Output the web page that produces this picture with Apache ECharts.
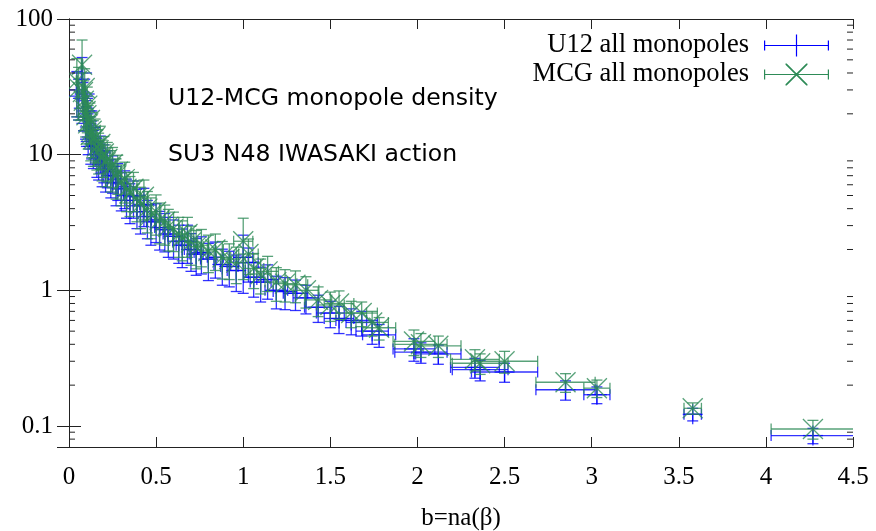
<!DOCTYPE html>
<html>
<head>
<meta charset="utf-8">
<script src="https://cdn.jsdelivr.net/npm/echarts@6/dist/echarts.min.js"></script>
<style>
  html, body { margin: 0; padding: 0; background: #fff; }
  #chart { width: 876px; height: 531px; }
</style>
</head>
<body>
<div id="chart"></div>
<script>
// b = n a(beta) and its error, shared by both series
const bVals = [0.045, 0.055, 0.075, 0.08, 0.085, 0.09, 0.095, 0.10, 0.105, 0.11,
    0.12, 0.125, 0.13, 0.14, 0.15, 0.16, 0.17, 0.18, 0.19, 0.20,
    0.21, 0.22, 0.24, 0.25, 0.27, 0.28, 0.30, 0.32, 0.33, 0.35,
    0.37, 0.39, 0.41, 0.43, 0.45, 0.47, 0.50, 0.52, 0.55, 0.57,
    0.60, 0.63, 0.65, 0.68, 0.70, 0.73, 0.76, 0.80, 0.84, 0.88,
    0.92, 0.96, 1.00, 1.03, 1.06, 1.10, 1.14, 1.19, 1.24, 1.30,
    1.36, 1.43, 1.50, 1.55, 1.62, 1.68, 1.74, 1.78, 1.98, 2.02,
    2.12, 2.33, 2.36, 2.50, 2.85, 3.03, 3.58, 4.27];
const bErr = [0.003, 0.003, 0.004, 0.004, 0.004, 0.005, 0.005, 0.005, 0.006, 0.006,
    0.007, 0.007, 0.007, 0.008, 0.008, 0.009, 0.009, 0.010, 0.010, 0.011,
    0.011, 0.012, 0.013, 0.014, 0.015, 0.015, 0.017, 0.018, 0.018, 0.020,
    0.020, 0.021, 0.022, 0.023, 0.024, 0.025, 0.027, 0.028, 0.030, 0.030,
    0.032, 0.034, 0.035, 0.036, 0.038, 0.040, 0.042, 0.045, 0.046, 0.048,
    0.050, 0.052, 0.055, 0.056, 0.058, 0.060, 0.062, 0.065, 0.068, 0.070,
    0.074, 0.078, 0.080, 0.085, 0.088, 0.090, 0.093, 0.095, 0.12, 0.15,
    0.13, 0.14, 0.16, 0.19, 0.17, 0.075, 0.05, 0.24];

// U12 all monopoles
const u12Vals = [30, 27, 40, 26, 22, 28, 19, 17, 21, 15,
    16, 12.5, 13.5, 11.5, 12, 10, 9.5, 10.5, 8.5, 9,
    7.8, 8.2, 7, 7.5, 6.2, 6.6, 5.6, 5.8, 5.0, 4.6,
    4.9, 4.2, 3.8, 4.3, 3.5, 3.2, 3.3, 2.9, 2.8, 2.6,
    2.5, 2.3, 2.15, 2.3, 2.0, 1.85, 1.9, 1.7, 1.75, 1.55,
    1.5, 1.4, 1.75, 1.6, 1.25, 1.15, 1.2, 1.0, 0.98, 0.95,
    0.88, 0.75, 0.68, 0.62, 0.6, 0.58, 0.5, 0.47, 0.37, 0.35,
    0.34, 0.27, 0.26, 0.25, 0.185, 0.17, 0.122, 0.085];
const u12Err = [11, 9, 12, 8, 7, 8, 6, 5.5, 6, 5,
    5, 4, 4.2, 3.6, 3.8, 3.2, 3, 3.2, 2.7, 2.8,
    2.5, 2.5, 2.2, 2.3, 2, 2, 1.75, 1.8, 1.6, 1.5,
    1.5, 1.35, 1.2, 1.35, 1.1, 1.05, 1.05, 0.92, 0.88, 0.85,
    0.8, 0.72, 0.68, 0.72, 0.62, 0.56, 0.58, 0.52, 0.52, 0.46,
    0.44, 0.42, 0.8, 0.45, 0.36, 0.33, 0.34, 0.27, 0.26, 0.24,
    0.21, 0.17, 0.15, 0.14, 0.13, 0.12, 0.1, 0.09, 0.07, 0.06,
    0.055, 0.045, 0.045, 0.04, 0.03, 0.024, 0.013, 0.011];

// MCG all monopoles
const mcgVals = [35, 31, 46, 29, 25, 31, 21, 19.5, 23, 17,
    18, 14, 15, 13, 13.5, 11.5, 10.8, 12, 9.6, 10.2,
    8.8, 9.3, 8, 8.5, 7, 7.5, 6.3, 6.6, 5.6, 5.2,
    5.6, 4.8, 4.3, 4.9, 4.0, 3.6, 3.8, 3.3, 3.2, 2.95,
    2.85, 2.6, 2.45, 2.6, 2.25, 2.1, 2.15, 1.95, 2.0, 1.75,
    1.7, 1.6, 2.3, 1.85, 1.45, 1.32, 1.38, 1.15, 1.12, 1.1,
    1.0, 0.85, 0.78, 0.8, 0.68, 0.68, 0.58, 0.53, 0.42, 0.40,
    0.39, 0.31, 0.29, 0.30, 0.21, 0.19, 0.135, 0.095];
const mcgErr = [16, 13, 24, 11, 10, 12, 7.5, 7.5, 8.5, 6,
    6, 5, 5.5, 4.8, 4.8, 3.8, 3.6, 4.2, 3.2, 3.4,
    3, 3, 2.7, 2.8, 2.3, 2.4, 2.1, 2.2, 1.8, 1.7,
    1.8, 1.6, 1.45, 1.6, 1.35, 1.2, 1.25, 1.1, 1.05, 1.0,
    0.92, 0.85, 0.8, 0.85, 0.72, 0.66, 0.66, 0.6, 0.6, 0.54,
    0.5, 0.48, 1.1, 0.54, 0.42, 0.38, 0.4, 0.32, 0.3, 0.29,
    0.26, 0.21, 0.19, 0.19, 0.15, 0.14, 0.12, 0.1, 0.09, 0.08,
    0.07, 0.055, 0.05, 0.055, 0.033, 0.028, 0.013, 0.015];

// minor ticks of the log axis
const minorTickVals = [0.08, 0.09, 0.2, 0.3, 0.4, 0.5, 0.6, 0.7, 0.8, 0.9,
    2, 3, 4, 5, 6, 7, 8, 9, 20, 30, 40, 50, 60, 70, 80, 90];

const BLUE = '#0000ff';
const GREEN = '#2e8b57';
const serif = 'Liberation Serif';

function rows(vals, errs) {
    return bVals.map((b, i) => [b, vals[i], bErr[i], errs[i]]);
}

function errRender(color, marker) {
    return function (params, api) {
        const x = api.value(0), y = api.value(1), dx = api.value(2), dy = api.value(3);
        const c = api.coord([x, y]);
        const l = api.coord([x - dx, y]);
        const r = api.coord([x + dx, y]);
        const lo = api.coord([x, y - dy]);
        const hi = api.coord([x, y + dy]);
        const cap = 5.5, m = 10;
        const segs = [
            [l[0], c[1], r[0], c[1]],
            [l[0], c[1] - cap, l[0], c[1] + cap],
            [r[0], c[1] - cap, r[0], c[1] + cap],
            [c[0], lo[1], c[0], hi[1]],
            [c[0] - cap, lo[1], c[0] + cap, lo[1]],
            [c[0] - cap, hi[1], c[0] + cap, hi[1]]
        ];
        if (marker === 'plus') {
            segs.push([c[0] - m, c[1], c[0] + m, c[1]]);
            segs.push([c[0], c[1] - m, c[0], c[1] + m]);
        } else {
            segs.push([c[0] - m, c[1] - m, c[0] + m, c[1] + m]);
            segs.push([c[0] - m, c[1] + m, c[0] + m, c[1] - m]);
        }
        return {
            type: 'group',
            children: segs.map(s => ({
                type: 'line',
                shape: { x1: s[0], y1: s[1], x2: s[2], y2: s[3] },
                style: { stroke: color, lineWidth: 1.3, opacity: 0.8 }
            }))
        };
    };
}

const bluePath = 'path://M0,10.4h65v1.2h-65z M0,6h1.2v10h-1.2z M63.8,6h1.2v10h-1.2z M31.9,0h1.2v22h-1.2z';
const greenPath = 'path://M0,10.4h65v1.2h-65z M0,6h1.2v10h-1.2z M63.8,6h1.2v10h-1.2z ' +
    'M21.5,0L22.7,0L43.5,20.8L43.5,22L42.3,22L21.5,1.2Z M43.5,0L43.5,1.2L22.7,22L21.5,22L21.5,20.8L42.3,0Z';

let myChart = echarts.init(document.getElementById('chart'));

let axisLine = { show: true, lineStyle: { color: '#222', width: 1 } };

let option = {
    animation: false,
    backgroundColor: '#fff',
    grid: { left: 69, right: 23, top: 19, bottom: 84, outerBoundsMode: 'none', containLabel: false },
    legend: {
        orient: 'vertical',
        right: 42,
        top: 27,
        align: 'right',
        itemWidth: 65,
        itemHeight: 22,
        itemGap: 2,
        selectedMode: false,
        textStyle: { fontFamily: serif, fontSize: 26.5, color: '#000', padding: [0, 10, 0, 0] },
        data: [
            { name: 'U12 all monopoles', icon: bluePath },
            { name: 'MCG all monopoles', icon: greenPath }
        ]
    },
    graphic: [
        {
            type: 'text', left: 168, top: 87,
            style: { text: 'U12-MCG monopole density', fontFamily: 'DejaVu Sans', fontSize: 23.6, fill: '#000' }
        },
        {
            type: 'text', left: 168, top: 143,
            style: { text: 'SU3 N48 IWASAKI action', fontFamily: 'DejaVu Sans', fontSize: 23.6, fill: '#000' }
        }
    ],
    xAxis: [
        {
            type: 'value', min: 0, max: 4.5, interval: 0.5,
            name: 'b=na(β)', nameLocation: 'middle', nameGap: 59,
            nameTextStyle: { fontFamily: serif, fontSize: 25, color: '#000' },
            axisLine: axisLine,
            axisTick: { inside: true, length: 10, lineStyle: { color: '#222' } },
            axisLabel: { fontFamily: serif, fontSize: 25, color: '#000', margin: 18 },
            splitLine: { show: false }
        },
        {
            type: 'value', min: 0, max: 4.5, interval: 0.5, position: 'top',
            axisLine: axisLine,
            axisTick: { inside: true, length: 10, lineStyle: { color: '#222' } },
            axisLabel: { show: false },
            splitLine: { show: false }
        }
    ],
    yAxis: [
        {
            type: 'log', logBase: 10, min: 0.07, max: 100,
            axisLine: axisLine,
            axisTick: { inside: true, length: 12, lineStyle: { color: '#222' } },
            axisLabel: {
                fontFamily: serif, fontSize: 25, color: '#000', margin: 16,
                formatter: function (v) {
                    const p = Math.log10(v);
                    if (Math.abs(p - Math.round(p)) > 1e-6) return '';
                    return String(Math.pow(10, Math.round(p)));
                }
            },
            splitLine: { show: false }
        },
        {
            type: 'log', logBase: 10, min: 0.07, max: 100, position: 'right',
            axisLine: axisLine,
            axisTick: { inside: true, length: 12, lineStyle: { color: '#222' } },
            axisLabel: { show: false },
            splitLine: { show: false }
        }
    ],
    series: [
        {
            name: 'U12 all monopoles',
            type: 'custom',
            clip: true,
            itemStyle: { color: BLUE },
            renderItem: errRender(BLUE, 'plus'),
            data: rows(u12Vals, u12Err)
        },
        {
            name: 'MCG all monopoles',
            type: 'custom',
            clip: true,
            itemStyle: { color: GREEN },
            renderItem: errRender(GREEN, 'cross'),
            data: rows(mcgVals, mcgErr)
        },
        {
            name: 'minor ticks',
            type: 'custom',
            silent: true,
            renderItem: function (params, api) {
                const cs = params.coordSys;
                const y = api.coord([0, api.value(1)])[1];
                const st = { stroke: '#222', lineWidth: 1 };
                return {
                    type: 'group',
                    children: [
                        { type: 'line', shape: { x1: cs.x, y1: y, x2: cs.x + 6, y2: y }, style: st },
                        { type: 'line', shape: { x1: cs.x + cs.width - 6, y1: y, x2: cs.x + cs.width, y2: y }, style: st }
                    ]
                };
            },
            data: minorTickVals.map(v => [0, v])
        }
    ]
};

myChart.setOption(option);
</script>
</body>
</html>
